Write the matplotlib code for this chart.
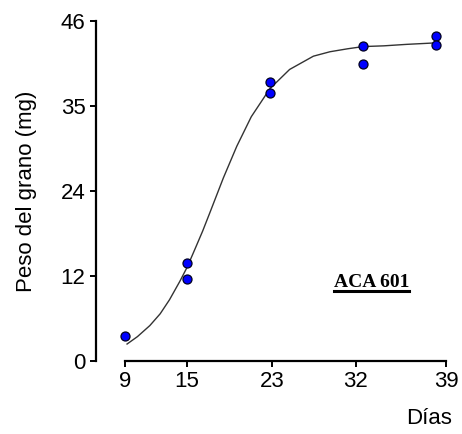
import matplotlib
matplotlib.use("Agg")
import matplotlib.pyplot as plt
from matplotlib.lines import Line2D

# observaciones (dias, peso del grano en mg)
dias_obs = [9, 15, 15, 23, 23, 32, 32, 39, 39]
peso_obs = [3.4, 13.3, 11.1, 37.8, 36.3, 42.7, 40.3, 44.1, 42.8]

# curva ajustada
dias_curva = [9.2, 10.2, 11.4, 12.4, 13.3, 14.3, 15.0, 15.8, 16.5, 17.2, 18.5,
              19.8, 21.2, 23.0, 24.9, 27.2, 28.8, 30.5, 32.0, 34.0, 36.2, 39.0]
peso_curva = [2.3, 3.3, 4.8, 6.4, 8.3, 10.8, 12.7, 15.3, 17.6, 20.1, 24.8,
              29.1, 33.1, 36.9, 39.5, 41.3, 41.9, 42.3, 42.6, 42.7, 42.9, 43.1]

xticks = [9, 15, 23.2, 31.3, 40]
xtick_labels = ['9', '15', '23', '32', '39']
yticks = [0, 11.5, 23, 34.5, 46]
ytick_labels = ['0', '12', '24', '35', '46']

plt.rcParams['font.family'] = ['Liberation Sans', 'DejaVu Sans']

fig = plt.figure(figsize=(4.62, 4.34), dpi=100)
ax = fig.add_axes([0.2078, 0.1682, 0.7619, 0.7823])

ax.plot(dias_curva, peso_curva, color='#333333', lw=1.0, zorder=2)
ax.plot(dias_obs, peso_obs, 'o', ms=6.5, color='#0000ff', mec='#000022', mew=0.9, zorder=3)

ax.set_xlim(6.2, 40.2)
ax.set_ylim(0, 46)
ax.set_xticks(xticks)
ax.set_xticklabels(xtick_labels)
ax.set_yticks(yticks)
ax.set_yticklabels(ytick_labels)

for s in ['top', 'right']:
    ax.spines[s].set_visible(False)
ax.spines['left'].set_linewidth(1.6)
ax.spines['bottom'].set_linewidth(1.6)
ax.spines['bottom'].set_bounds(9, 40)
ax.tick_params(axis='both', labelsize=16, width=1.4, length=4.5, pad=3, direction='out')

ax.set_ylabel('Peso del grano (mg)', fontsize=16)
ax.yaxis.set_label_coords(-0.168, 0.5)
ax.set_xlabel('Días', fontsize=16, loc='right')
ax.xaxis.set_label_coords(1.01, -0.168)
ax.xaxis.label.set_va('center')

t = ax.text(32.8, 10.7, 'ACA 601', fontsize=14, fontweight='bold',
            family='Liberation Serif', ha='center', va='center')

# subrayado
fig.canvas.draw()
bb = t.get_window_extent().transformed(fig.transFigure.inverted())
fig.add_artist(Line2D([bb.x0, bb.x1], [bb.y0 - 0.002, bb.y0 - 0.002], color='black',
                      lw=2.2, transform=fig.transFigure))

fig.savefig('out.png', dpi=100)
